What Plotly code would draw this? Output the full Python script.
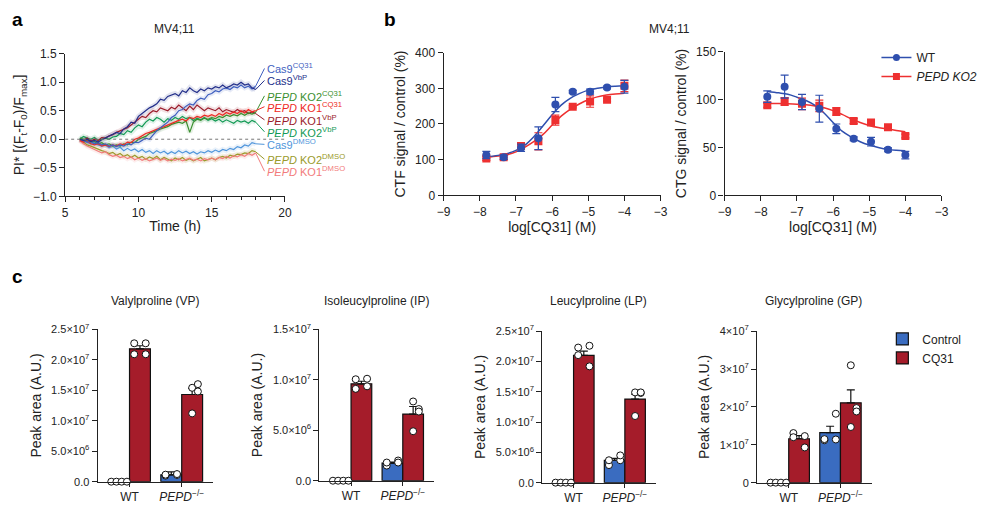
import plotly.graph_objects as go

W, H = 983, 511
FONT = "Arial, Liberation Sans, sans-serif"

# ---------------- panel a: pyroptosis kinetics ----------------
time_h = [6.0 + 0.25 * i for i in range(49)]

cas9_cq31 = [0.0, -0.03, -0.05, -0.04, -0.08, -0.06, -0.1, -0.08, -0.12, -0.1, -0.13, -0.1, -0.12, -0.08, -0.1, -0.05,
             -0.06, -0.02, 0.02, 0.0, 0.08, 0.15, 0.2, 0.25, 0.3, 0.38, 0.42, 0.5, 0.52, 0.58, 0.62, 0.6, 0.68, 0.72,
             0.7, 0.78, 0.8, 0.85, 0.83, 0.88, 0.9, 0.87, 0.92, 0.9, 0.95, 0.9, 0.93, 0.88, 0.93]
cas9_vbp = [0.0, -0.02, 0.0, -0.04, -0.02, -0.05, -0.01, 0.02, 0.05, 0.08, 0.12, 0.1, 0.18, 0.22, 0.3, 0.28, 0.4, 0.45,
            0.5, 0.55, 0.58, 0.62, 0.7, 0.68, 0.75, 0.78, 0.8, 0.76, 0.85, 0.82, 0.9, 0.85, 0.82, 0.88, 0.85, 0.9, 0.88,
            0.92, 0.9, 0.95, 0.9, 0.93, 0.97, 0.95, 1.0, 0.95, 0.97, 0.9, 0.87]
ko2_cq31 = [0.02, 0.0, -0.03, -0.05, -0.04, -0.08, -0.06, -0.1, -0.08, -0.12, -0.1, -0.12, -0.08, -0.1, -0.05, -0.06,
            0.0, 0.03, 0.05, 0.1, 0.12, 0.15, 0.18, 0.2, 0.22, 0.26, 0.28, 0.3, 0.28, 0.32, 0.12, 0.3, 0.35, 0.33, 0.37,
            0.35, 0.38, 0.36, 0.4, 0.38, 0.42, 0.4, 0.43, 0.41, 0.45, 0.42, 0.46, 0.44, 0.47]
ko1_cq31 = [-0.02, -0.05, -0.03, -0.08, -0.1, -0.08, -0.12, -0.1, -0.13, -0.1, -0.12, -0.08, -0.1, -0.05, -0.06, 0.0,
            0.02, 0.06, 0.1, 0.12, 0.15, 0.18, 0.2, 0.22, 0.25, 0.28, 0.3, 0.33, 0.35, 0.32, 0.38, 0.36, 0.4, 0.38,
            0.42, 0.4, 0.43, 0.4, 0.45, 0.42, 0.47, 0.44, 0.48, 0.45, 0.5, 0.46, 0.52, 0.48, 0.5]
ko1_vbp = [0.0, -0.02, 0.02, -0.03, 0.0, -0.02, 0.03, 0.02, 0.06, 0.08, 0.12, 0.15, 0.18, 0.2, 0.25, 0.3, 0.35, 0.4,
           0.38, 0.45, 0.5, 0.48, 0.55, 0.52, 0.5, 0.56, 0.53, 0.6, 0.55, 0.5, 0.58, 0.52, 0.6, 0.55, 0.5, 0.55, 0.52,
           0.5, 0.55, 0.48, 0.52, 0.5, 0.47, 0.52, 0.48, 0.5, 0.45, 0.48, 0.45]
ko2_vbp = [0.0, 0.05, 0.02, 0.0, 0.03, -0.02, 0.0, 0.02, 0.0, 0.04, 0.05, 0.1, 0.08, 0.15, 0.12, 0.2, 0.25, 0.22, 0.3,
           0.35, 0.32, 0.38, 0.35, 0.3, 0.36, 0.33, 0.38, 0.35, 0.4, 0.36, 0.38, 0.33, 0.37, 0.34, 0.38, 0.33, 0.36,
           0.32, 0.35, 0.3, 0.34, 0.31, 0.28, 0.33, 0.3, 0.32, 0.28, 0.33, 0.3]
cas9_dmso = [0.0, -0.03, -0.05, -0.08, -0.06, -0.1, -0.12, -0.1, -0.15, -0.12, -0.17, -0.14, -0.2, -0.16, -0.2, -0.17,
             -0.22, -0.18, -0.23, -0.2, -0.25, -0.2, -0.24, -0.21, -0.26, -0.22, -0.25, -0.2, -0.24, -0.21, -0.25,
             -0.22, -0.26, -0.22, -0.24, -0.2, -0.23, -0.19, -0.22, -0.18, -0.2, -0.16, -0.18, -0.13, -0.15, -0.1,
             -0.12, -0.06, -0.08]
ko2_dmso = [0.0, -0.05, -0.1, -0.12, -0.15, -0.18, -0.2, -0.22, -0.25, -0.23, -0.28, -0.25, -0.3, -0.27, -0.32, -0.28,
            -0.33, -0.3, -0.35, -0.31, -0.34, -0.3, -0.36, -0.32, -0.35, -0.38, -0.33, -0.36, -0.32, -0.37, -0.34,
            -0.38, -0.35, -0.32, -0.38, -0.35, -0.33, -0.36, -0.32, -0.3, -0.33, -0.28, -0.3, -0.26, -0.27, -0.24,
            -0.25, -0.2, -0.22]
ko1_dmso = [-0.02, -0.08, -0.12, -0.15, -0.18, -0.2, -0.24, -0.22, -0.27, -0.3, -0.28, -0.32, -0.3, -0.34, -0.31,
            -0.36, -0.33, -0.37, -0.34, -0.38, -0.35, -0.33, -0.37, -0.34, -0.38, -0.35, -0.37, -0.34, -0.38, -0.36,
            -0.33, -0.37, -0.35, -0.38, -0.34, -0.36, -0.33, -0.36, -0.32, -0.34, -0.3, -0.33, -0.29, -0.31, -0.27,
            -0.3, -0.25, -0.28, -0.24]

# (series, colour, label, label y position)
kinetics = [
    (cas9_dmso, "#4f95db", "Cas9<sup>DMSO</sup>", -0.09),
    (ko2_dmso, "#9a9a2a", "<i>PEPD</i> KO2<sup>DMSO</sup>", -0.35),
    (ko1_dmso, "#f27b7b", "<i>PEPD</i> KO1<sup>DMSO</sup>", -0.56),
    (ko2_vbp, "#139a55", "<i>PEPD</i> KO2<sup>VbP</sup>", 0.13),
    (ko1_vbp, "#9b1b2a", "<i>PEPD</i> KO1<sup>VbP</sup>", 0.34),
    (ko2_cq31, "#3b8f2f", "<i>PEPD</i> KO2<sup>CQ31</sup>", 0.76),
    (ko1_cq31, "#ee2a24", "<i>PEPD</i> KO1<sup>CQ31</sup>", 0.57),
    (cas9_cq31, "#3f5fbf", "Cas9<sup>CQ31</sup>", 1.24),
    (cas9_vbp, "#232f8a", "Cas9<sup>VbP</sup>", 1.03),
]

# ---------------- panel b: dose response ----------------
log_dose = [-7.82, -7.34, -6.86, -6.38, -5.91, -5.43, -4.95, -4.48, -4.0]
ctf_wt = [113, 106.5, 133.5, 160, 254.5, 290.5, 290.5, 302.5, 304.5]
ctf_wt_err = [10, 6, 10, 32, 20, 4, 7, 4, 18]
ctf_ko2 = [103, 106.5, 138, 151.5, 211, 248, 263, 268, 307]
ctf_ko2_err = [5, 5, 8, 24, 14, 3, 16, 4, 16]
ctg_wt = [103, 113.5, 97.5, 90.5, 69.5, 59, 56, 47.5, 42]
ctg_wt_err = [6, 12, 8, 14, 5, 2, 4.5, 2, 4]
ctg_ko2 = [94, 98, 95.5, 93.5, 87.5, 77.5, 76, 71, 62]
ctg_ko2_err = [2, 4, 6, 6, 4, 2.5, 3, 2, 2]

fit_x = [-7.82, -7.5, -7.25, -7.0, -6.75, -6.5, -6.25, -6.0, -5.75, -5.5, -5.25, -5.0, -4.75, -4.5, -4.25, -4.0]
ctf_wt_fit = [108, 112, 117, 126, 141, 165, 195, 226, 253, 272, 285, 295, 300, 304, 306, 307]
ctf_ko2_fit = [106, 110, 114, 122, 135, 151, 171, 197, 222, 241, 256, 268, 276, 281, 284, 286]
ctg_wt_fit = [108.5, 107, 105.5, 102.5, 99, 94, 86, 76, 67, 61, 56, 52.5, 50, 48, 47, 46.5]
ctg_ko2_fit = [96, 95.8, 95.6, 95.2, 94.5, 93.3, 91.5, 88.5, 84.5, 80, 76, 73, 70.8, 69.3, 67.8, 66.5]

BLUE, RED = "#2f4fae", "#ee3030"

# ---------------- panel c: dipeptides ----------------
groups = ["WT", "<i>PEPD</i><sup>−/−</sup>"]
metabolites = ["Valylproline (VP)", "Isoleucylproline (IP)", "Leucylproline (LP)", "Glycylproline (GP)"]
# per metabolite: [WT dots, PEPD dots] for Control and CQ31
ctrl_dots = [
    [[0, 0, 0, 0], [1.0e6, 1.1e6, 1.15e6, 1.25e6]],
    [[0, 0, 0, 0], [1.5e6, 2.0e6, 1.8e6, 1.8e6]],
    [[0, 0, 0, 0], [2.9e6, 3.7e6, 3.7e6, 4.5e6]],
    [[0, 0, 0, 0], [1.12e7, 1.82e7, 1.15e7, 1.14e7]],
]
cq31_dots = [
    [[2.27e7, 2.27e7, 2.09e7, 2.09e7], [1.54e7, 1.60e7, 1.48e7, 1.12e7]],
    [[1.005e7, 1.01e7, 0.91e7, 0.935e7], [0.785e7, 0.71e7, 0.685e7, 0.49e7]],
    [[2.23e7, 2.26e7, 2.105e7, 1.92e7], [1.49e7, 1.48e7, 1.49e7, 1.10e7]],
    [[1.31e7, 1.23e7, 1.2e7, 0.93e7], [3.1e7, 1.97e7, 1.88e7, 1.47e7]],
]
ctrl_mean = [[0, 1.1e6], [0, 1.75e6], [0, 3.7e6], [0, 1.32e7]]
ctrl_sem = [[0, 0.5e6], [0, 0.1e6], [0, 0.3e6], [0, 0.17e7]]
cq31_mean = [[2.18e7, 1.43e7], [0.96e7, 0.66e7], [2.10e7, 1.38e7], [1.16e7, 2.11e7]]
cq31_sem = [[0.05e7, 0.1e7], [0.025e7, 0.075e7], [0.07e7, 0.08e7], [0.08e7, 0.34e7]]
y_max = [2.5e7, 1.5e7, 2.5e7, 4e7]
tick_vals = [
    [0, 5e6, 1e7, 1.5e7, 2e7, 2.5e7],
    [0, 5e6, 1e7, 1.5e7],
    [0, 5e6, 1e7, 1.5e7, 2e7, 2.5e7],
    [0, 1e7, 2e7, 3e7, 4e7],
]
tick_text = [
    ["0.0", "5.0×10<sup>6</sup>", "1.0×10<sup>7</sup>", "1.5×10<sup>7</sup>", "2.0×10<sup>7</sup>", "2.5×10<sup>7</sup>"],
    ["0.0", "5.0×10<sup>6</sup>", "1.0×10<sup>7</sup>", "1.5×10<sup>7</sup>"],
    ["0.0", "5.0×10<sup>6</sup>", "1.0×10<sup>7</sup>", "1.5×10<sup>7</sup>", "2.0×10<sup>7</sup>", "2.5×10<sup>7</sup>"],
    ["0", "1×10<sup>7</sup>", "2×10<sup>7</sup>", "3×10<sup>7</sup>", "4×10<sup>7</sup>"],
]
CTRL_COL, CQ_COL = "#3a6cc0", "#a51c2a"

# dot jitter inside each bar (fraction of group spacing)
zero_jit = [-0.15, -0.05, 0.05, 0.15]
jit = [-0.11, 0.11, -0.11, 0.11]
jit2 = [0.0, 0.11, 0.11, 0.0]


def xd(a, b):
    return [a / W, b / W]


def yd(top, bottom):
    return [1 - bottom / H, 1 - top / H]


axis_common = dict(showline=True, linecolor="#222", linewidth=1.3, ticks="outside", ticklen=5,
                   tickcolor="#222", tickwidth=1.2, showgrid=False, zeroline=False,
                   tickfont=dict(size=12, color="#222", family=FONT))

fig = go.Figure()

# panel a traces
for ser, col, lab, ly in kinetics:
    fig.add_trace(go.Scatter(x=time_h, y=ser, mode="lines", line=dict(color=col, width=5), opacity=0.12,
                             showlegend=False, hoverinfo="skip", xaxis="x", yaxis="y"))
for ser, col, lab, ly in kinetics:
    fig.add_trace(go.Scatter(x=time_h, y=ser, mode="lines", line=dict(color=col, width=1.2),
                             showlegend=False, xaxis="x", yaxis="y"))

annotations = []
shapes = []
for ser, col, lab, ly in kinetics:
    shapes.append(dict(type="line", xref="x", yref="y", x0=time_h[-1], y0=ser[-1], x1=18.6, y1=ly,
                       line=dict(color=col, width=1)))
    annotations.append(dict(xref="x", yref="y", x=18.62, y=ly, text=lab, showarrow=False, xanchor="left",
                            yanchor="middle", font=dict(size=11, color=col, family=FONT)))
shapes.append(dict(type="line", xref="x", yref="y", x0=5, x1=20, y0=0, y1=0,
                   line=dict(color="#777", width=1, dash="dot")))

# panel b traces
for xa, ya, wt, wte, ko, koe, wtf, kof in [
    ("x2", "y2", ctf_wt, ctf_wt_err, ctf_ko2, ctf_ko2_err, ctf_wt_fit, ctf_ko2_fit),
    ("x3", "y3", ctg_wt, ctg_wt_err, ctg_ko2, ctg_ko2_err, ctg_wt_fit, ctg_ko2_fit),
]:
    fig.add_trace(go.Scatter(x=fit_x, y=kof, mode="lines", line=dict(color=RED, width=1.5, shape="spline"),
                             showlegend=False, xaxis=xa, yaxis=ya))
    fig.add_trace(go.Scatter(x=fit_x, y=wtf, mode="lines", line=dict(color=BLUE, width=1.5, shape="spline"),
                             showlegend=False, xaxis=xa, yaxis=ya))
    fig.add_trace(go.Scatter(x=log_dose, y=ko, mode="markers",
                             marker=dict(symbol="square", size=8, color=RED),
                             error_y=dict(type="data", array=koe, color=RED, thickness=1.2, width=4),
                             showlegend=False, xaxis=xa, yaxis=ya))
    fig.add_trace(go.Scatter(x=log_dose, y=wt, mode="markers",
                             marker=dict(symbol="circle", size=8, color=BLUE),
                             error_y=dict(type="data", array=wte, color=BLUE, thickness=1.2, width=4),
                             showlegend=False, xaxis=xa, yaxis=ya))

fig.add_trace(go.Scatter(x=[None], y=[None], mode="lines+markers", name="WT",
                         line=dict(color=BLUE, width=1.5), marker=dict(color=BLUE, size=7, symbol="circle"),
                         xaxis="x3", yaxis="y3", legend="legend"))
fig.add_trace(go.Scatter(x=[None], y=[None], mode="lines+markers", name="<i>PEPD KO2</i>",
                         line=dict(color=RED, width=1.5), marker=dict(color=RED, size=7, symbol="square"),
                         xaxis="x3", yaxis="y3", legend="legend"))

# panel c traces
c_domains = [((92, 209), (331, 488)), ((317, 433), (331, 487)), ((543, 658), (333, 489)), ((761, 877), (333, 489))]
for k in range(4):
    xa, ya = "x%d" % (k + 4), "y%d" % (k + 4)
    fig.add_trace(go.Bar(x=[0, 1], y=ctrl_mean[k], width=0.4, offset=-0.4, name="Control",
                         marker=dict(color=CTRL_COL, line=dict(color="#111", width=1.2)),
                         error_y=dict(type="data", symmetric=False, array=ctrl_sem[k], arrayminus=[0, 0],
                                      color="#111", thickness=1.2, width=4),
                         showlegend=(k == 3), legend="legend2", xaxis=xa, yaxis=ya))
    fig.add_trace(go.Bar(x=[0, 1], y=cq31_mean[k], width=0.4, offset=0.0, name="CQ31",
                         marker=dict(color=CQ_COL, line=dict(color="#111", width=1.2)),
                         error_y=dict(type="data", symmetric=False, array=cq31_sem[k], arrayminus=[0, 0],
                                      color="#111", thickness=1.2, width=4),
                         showlegend=(k == 3), legend="legend2", xaxis=xa, yaxis=ya))
    dx, dy = [], []
    for g in range(2):
        cj = zero_jit if ctrl_dots[k][g][0] == 0 else jit
        dx += [g - 0.2 + j for j in cj]
        dy += ctrl_dots[k][g]
        qj = jit if g == 0 else jit2
        dx += [g + 0.2 + j for j in qj]
        dy += cq31_dots[k][g]
    fig.add_trace(go.Scatter(x=dx, y=dy, mode="markers", cliponaxis=False,
                             marker=dict(color="white", size=7, line=dict(color="#111", width=1)),
                             showlegend=False, xaxis=xa, yaxis=ya))

layout = dict(
    width=W, height=H, margin=dict(l=0, r=0, t=0, b=0), autosize=False,
    paper_bgcolor="white", plot_bgcolor="white",
    font=dict(family=FONT, size=12, color="#222"),
    barmode="overlay",
    xaxis=dict(domain=xd(59, 282), range=[5, 20], dtick=5,
               minor=dict(dtick=1, ticks="outside", ticklen=3, tickcolor="#222"),
               title=dict(text="Time (h)", standoff=2), anchor="y", **axis_common),
    yaxis=dict(domain=yd(47, 194), range=[-1, 1.5], dtick=0.5, tickformat=".1f",
               title=dict(text="PI* [(F<sub>t</sub>-F<sub>0</sub>)/F<sub>max</sub>]", standoff=4),
               anchor="x", **axis_common),
    xaxis2=dict(domain=xd(443, 663), range=[-9, -3], dtick=1, anchor="y2",
                title=dict(text="log[CQ31] (M)", standoff=2), **axis_common),
    yaxis2=dict(domain=yd(46, 193), range=[0, 400], dtick=100, anchor="x2",
                title=dict(text="CTF signal / control (%)", standoff=6), **axis_common),
    xaxis3=dict(domain=xd(728, 948), range=[-9, -3], dtick=1, anchor="y3",
                title=dict(text="log[CQ31] (M)", standoff=2), **axis_common),
    yaxis3=dict(domain=yd(45, 193), range=[0, 150], dtick=50, anchor="x3",
                title=dict(text="CTG signal / control (%)", standoff=6), **axis_common),
    legend=dict(x=882 / W, y=1 - 36 / H, xanchor="left", yanchor="top", bgcolor="rgba(0,0,0,0)",
                font=dict(size=12, family=FONT), itemwidth=30, tracegroupgap=2),
    legend2=dict(x=888 / W, y=1 - 326 / H, xanchor="left", yanchor="top", bgcolor="rgba(0,0,0,0)",
                 font=dict(size=12, family=FONT), itemwidth=30, traceorder="normal"),
)

for k in range(4):
    (xa0, xa1), (yt, yb) = c_domains[k]
    n = k + 4
    layout["xaxis%d" % n] = dict(domain=xd(xa0, xa1), range=[-0.61, 1.6], anchor="y%d" % n,
                                 tickvals=[0, 1], ticktext=groups, **{**axis_common, "ticklen": 4})
    layout["yaxis%d" % n] = dict(domain=yd(yt, yb), range=[0, y_max[k]], anchor="x%d" % n,
                                 tickvals=tick_vals[k], ticktext=tick_text[k],
                                 title=dict(text="Peak area (A.U.)", standoff=6),
                                 **{**axis_common, "tickfont": dict(size=11, color="#222", family=FONT)})

# titles and panel letters
titles = [("MV4;11", 170, 22), ("MV4;11", 672, 22)]
titles += [(metabolites[k], cx, 302) for k, cx in enumerate([150, 375, 600, 818])]
for t, px, py in titles:
    annotations.append(dict(xref="paper", yref="paper", x=px / W, y=1 - py / H, text=t, showarrow=False,
                            xanchor="center", yanchor="middle", font=dict(size=12, color="#222", family=FONT)))
for t, px, py in [("a", 3, 12), ("b", 380, 12), ("c", 3, 277)]:
    annotations.append(dict(xref="paper", yref="paper", x=px / W, y=1 - py / H, text="<b>%s</b>" % t,
                            showarrow=False, xanchor="left", yanchor="middle",
                            font=dict(size=19, color="#000", family=FONT)))

layout["annotations"] = annotations
layout["shapes"] = shapes
fig.update_layout(**layout)

# page body without default margins so the figure fills the window exactly
fig.write_html("out.html", config={"displayModeBar": False},
               post_script="document.body.style.margin='0';document.body.style.overflow='hidden';")
